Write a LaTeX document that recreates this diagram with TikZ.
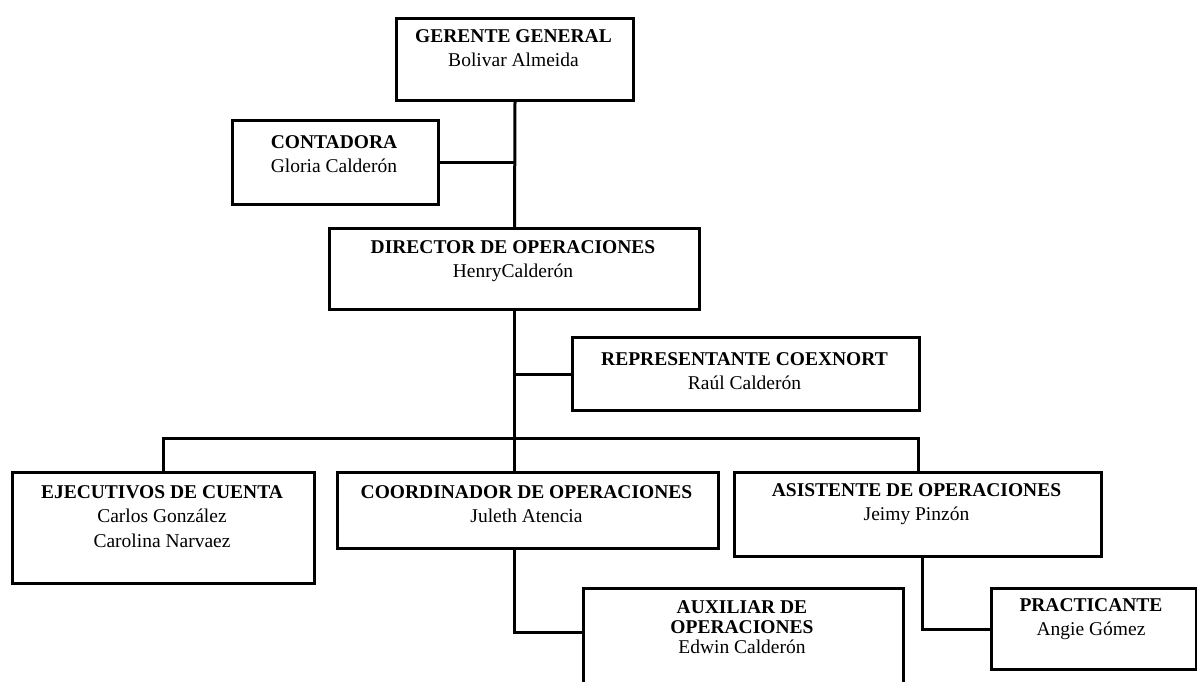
\documentclass[tikz,border=0pt]{standalone}
\usepackage{fontspec}
\setmainfont{Liberation Serif}
\begin{document}
\begin{tikzpicture}[x=1pt,y=-1pt,
  orgbox/.style={draw, line width=3pt, inner sep=0pt, anchor=north west},
  orgtext/.style={anchor=north, inner sep=0pt, align=center, font=\fontsize{19.5}{24.5}\selectfont},
  tighttext/.style={orgtext, font=\fontsize{19.5}{20}\selectfont},
  conn/.style={line width=3pt, line join=miter}]
\useasboundingbox (0,0) rectangle (1197,681);
\clip (0,0) rectangle (1197,681);
\fill[white] (0,0) rectangle (1197,681);

% boxes
\node[orgbox, minimum width=237pt, minimum height=82pt] (gerente) at (395,17) {};
\node[orgbox, minimum width=206pt, minimum height=84pt] (contadora) at (231,119) {};
\node[orgbox, minimum width=370pt, minimum height=81pt] (director) at (328,227) {};
\node[orgbox, minimum width=347pt, minimum height=73pt] (representante) at (571,336) {};
\node[orgbox, minimum width=302pt, minimum height=111pt] (ejecutivos) at (11,471) {};
\node[orgbox, minimum width=381pt, minimum height=76pt] (coordinador) at (336,471) {};
\node[orgbox, minimum width=367pt, minimum height=84pt] (asistente) at (733,471) {};
\node[orgbox, minimum width=320pt, minimum height=130pt] (auxiliar) at (582,587) {};
\node[orgbox, minimum width=205pt, minimum height=81pt] (practicante) at (990,587) {};

% texts
\node[orgtext] (gerente-t) at (513.5,29) {\textbf{GERENTE GENERAL}\\Bolivar Almeida};
\node[orgtext] (contadora-t) at (334,135) {\textbf{CONTADORA}\\Gloria Calderón};
\node[orgtext] (director-t) at (513,240) {\textbf{DIRECTOR DE OPERACIONES}\\HenryCalderón};
\node[orgtext] (representante-t) at (744.5,352) {\textbf{REPRESENTANTE COEXNORT}\\Raúl Calderón};
\node[orgtext] (ejecutivos-t) at (162,485) {\textbf{EJECUTIVOS DE CUENTA}\\Carlos González\\Carolina Narvaez};
\node[orgtext] (coordinador-t) at (526.5,485) {\textbf{COORDINADOR DE OPERACIONES}\\Juleth Atencia};
\node[orgtext] (asistente-t) at (916.5,483) {\textbf{ASISTENTE DE OPERACIONES}\\Jeimy Pinzón};
\node[tighttext] (auxiliar-t) at (742,600) {\textbf{AUXILIAR DE}\\\textbf{OPERACIONES}\\Edwin Calderón};
\node[orgtext] (practicante-t) at (1091,598) {\textbf{PRACTICANTE}\\Angie Gómez};

% helper coordinates
\coordinate (bus) at (513,438);
\coordinate (auxin) at ([yshift=-45pt]auxiliar.north west);

% connectors
\draw[conn] (gerente.south) -- (director.north);
\draw[conn] (contadora.east) -- (contadora.east -| gerente.south);
\draw[conn] (director.south) -- (director.south |- coordinador.north);
\draw[conn] (representante.west) -- (representante.west -| director.south);
\draw[conn] (ejecutivos.north) |- (bus) -| (asistente.north);
\draw[conn] (director.south |- coordinador.south) |- (auxin);
\draw[conn] ([xshift=4pt]asistente.south) |- (practicante.west);
\end{tikzpicture}
\end{document}
